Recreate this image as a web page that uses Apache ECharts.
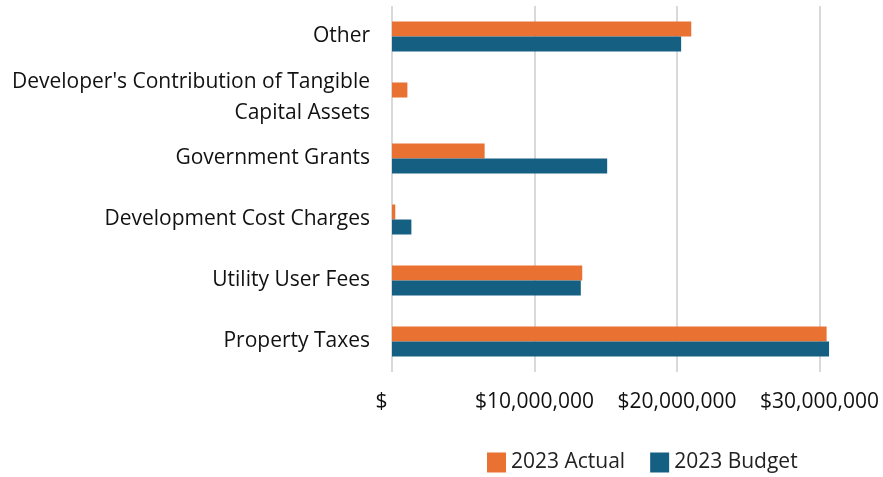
<!DOCTYPE html>
<html>
<head>
<meta charset="utf-8">
<script src="https://cdn.jsdelivr.net/npm/echarts@6/dist/echarts.min.js"></script>
<style>
  html, body { margin: 0; padding: 0; background: #fff; overflow: hidden; }
  /* the original chart is cut off on the right, so the canvas is wider than the window */
  #chart { width: 1040px; height: 477px; }
</style>
</head>
<body>
<div id="chart"></div>
<script>
// categories bottom -> top
const categories = [
  'Property Taxes',
  'Utility User Fees',
  'Development Cost Charges',
  'Government Grants',
  "Developer's Contribution of Tangible\nCapital Assets",
  'Other'
];
const actual2023 = [30500000, 13350000, 230000, 6500000, 1080000, 21000000];
const budget2023 = [30670000, 13250000, 1360000, 15100000, 0, 20290000];
const xTicks = [0, 10000000, 20000000, 30000000, 40000000];

const chart = echarts.init(document.getElementById('chart'));

const fmtMoney = (v) => {
  if (v === 0) return '$\u2003';
  return '$' + v.toLocaleString('en-US');
};

const option = {
  animation: false,
  textStyle: { fontFamily: 'Open Sans' },
  grid: {
    left: 392,
    right: 78,
    top: 6,
    bottom: 105
  },
  legend: {
    data: ['2023 Actual', '2023 Budget'],
    left: 487,
    top: 452,
    padding: 0,
    itemWidth: 19,
    itemHeight: 20,
    itemGap: 25,
    icon: 'rect',
    textStyle: { fontSize: 21, color: '#222' }
  },
  xAxis: {
    type: 'value',
    min: xTicks[0],
    max: xTicks[xTicks.length - 1],
    interval: 10000000,
    axisLine: { show: false },
    axisTick: { show: false },
    axisLabel: {
      color: '#111',
      fontSize: 21,
      margin: 20,
      formatter: fmtMoney
    },
    splitLine: { lineStyle: { color: '#d9d9d9', width: 2 } }
  },
  yAxis: {
    type: 'category',
    data: categories,
    axisLine: { show: false },
    axisTick: { show: false },
    axisLabel: {
      color: '#111',
      fontSize: 21,
      margin: 22,
      lineHeight: 31,
      align: 'right'
    }
  },
  series: [
    {
      name: '2023 Actual',
      type: 'bar',
      data: actual2023,
      barWidth: 15,
      barGap: '0%',
      itemStyle: { color: '#E97132' }
    },
    {
      name: '2023 Budget',
      type: 'bar',
      data: budget2023,
      barWidth: 15,
      barGap: '0%',
      itemStyle: { color: '#156082' }
    }
  ]
};

chart.setOption(option);
</script>
</body>
</html>
